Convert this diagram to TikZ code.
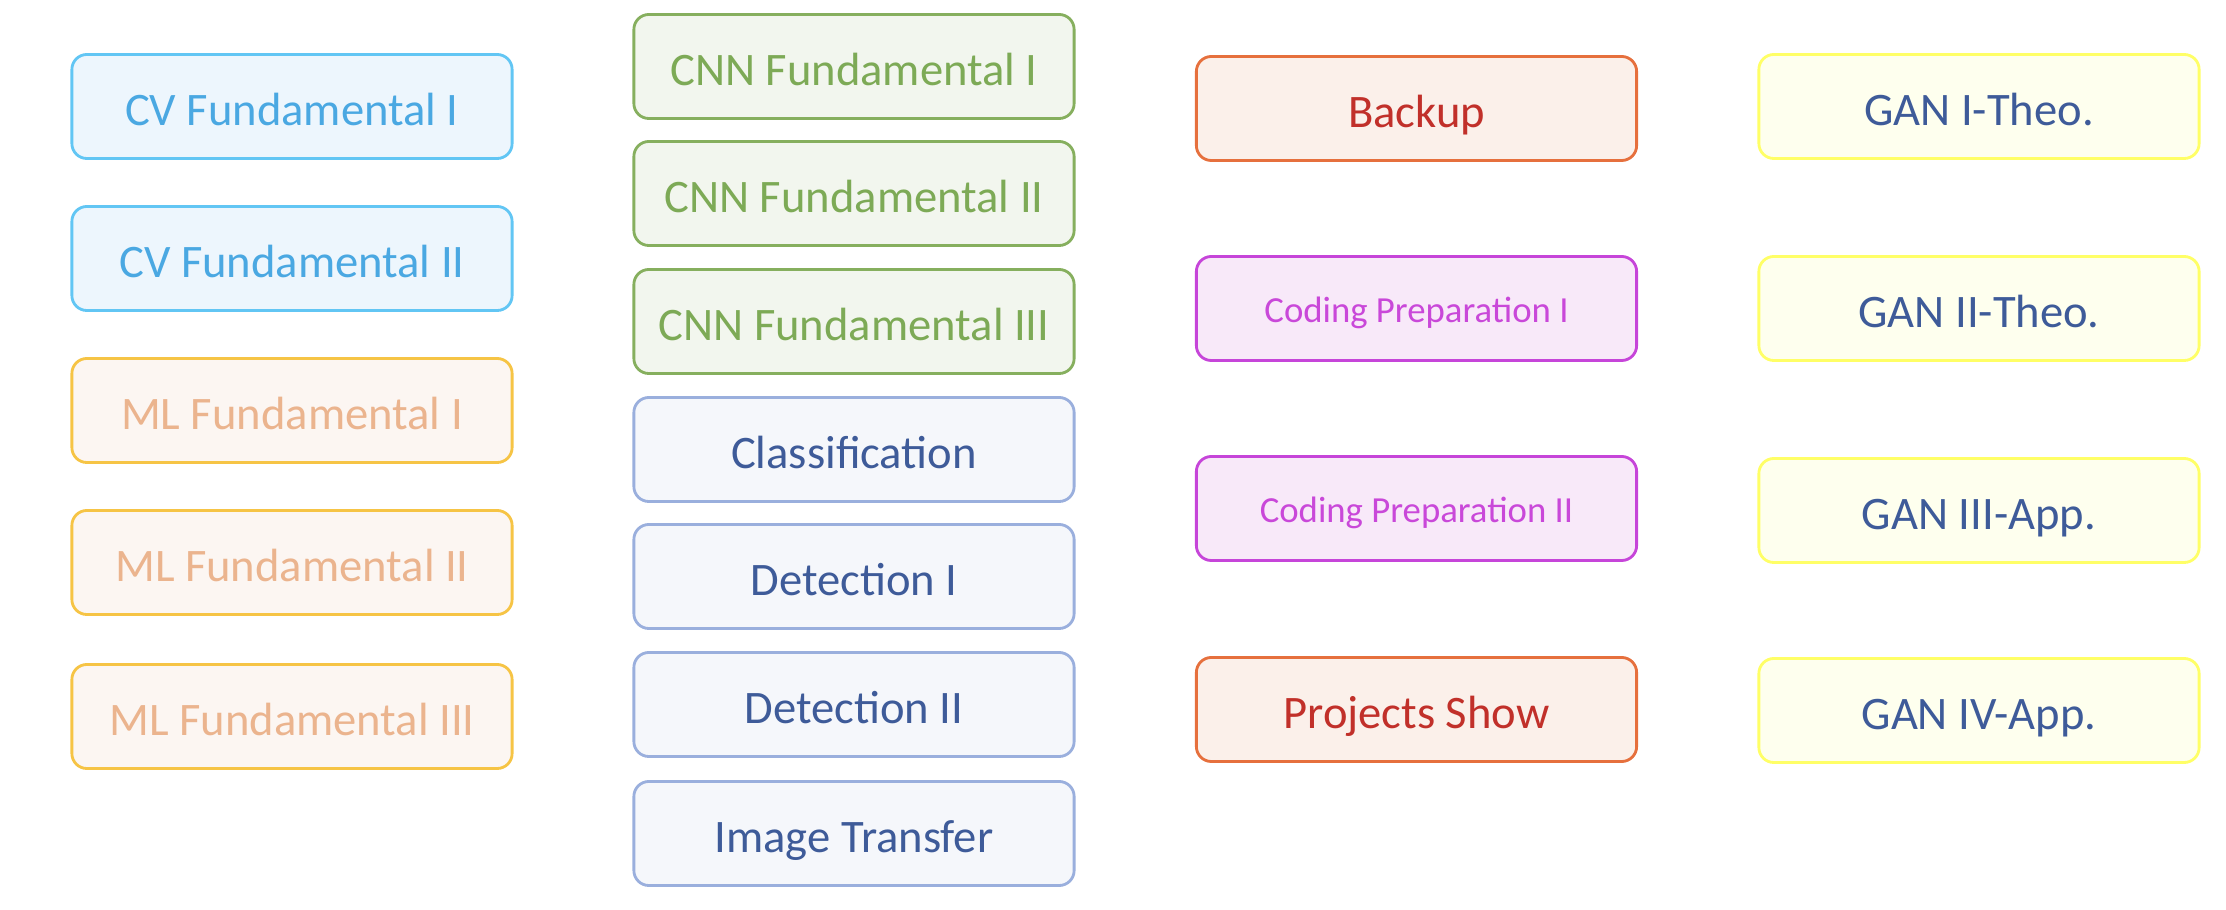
\documentclass[tikz,border=0pt]{standalone}
\usepackage{fontspec}
\setmainfont{Carlito}
\definecolor{cvB}{HTML}{62C6F4}\definecolor{cvF}{HTML}{EDF6FD}\definecolor{cvT}{HTML}{4AA8E2}
\definecolor{mlB}{HTML}{F6C445}\definecolor{mlF}{HTML}{FCF6F2}\definecolor{mlT}{HTML}{EBB48E}
\definecolor{cnB}{HTML}{86AF5E}\definecolor{cnF}{HTML}{F2F6EE}\definecolor{cnT}{HTML}{7DAA56}
\definecolor{dtB}{HTML}{9AAFDD}\definecolor{dtF}{HTML}{F5F7FB}\definecolor{dtT}{HTML}{3E5B99}
\definecolor{bkB}{HTML}{E6703D}\definecolor{bkF}{HTML}{FBF0EA}\definecolor{bkT}{HTML}{C1302A}
\definecolor{cpB}{HTML}{C645D9}\definecolor{cpF}{HTML}{F8E9F9}\definecolor{cpT}{HTML}{C948D9}
\definecolor{gnB}{HTML}{FFFF66}\definecolor{gnF}{HTML}{FEFFEE}\definecolor{gnT}{HTML}{3E5B99}
\tikzset{
  box/.style={rectangle, rounded corners=0.15cm, line width=0.8pt, minimum width=4.40cm, minimum height=1.04cm, inner sep=0pt, text height=0.37cm, text depth=0cm, font=\fontsize{13.25pt}{16pt}\selectfont},
  cvbox/.style={box, draw=cvB, fill=cvF, text=cvT},
  mlbox/.style={box, draw=mlB, fill=mlF, text=mlT},
  cnbox/.style={box, draw=cnB, fill=cnF, text=cnT},
  dtbox/.style={box, draw=dtB, fill=dtF, text=dtT},
  bkbox/.style={box, draw=bkB, fill=bkF, text=bkT},
  cpbox/.style={box, draw=cpB, fill=cpF, text=cpT, text height=0.28cm, font=\fontsize{10.45pt}{13pt}\selectfont},
  gnbox/.style={box, draw=gnB, fill=gnF, text=gnT},
}
\begin{document}
\begin{tikzpicture}[x=0.01cm,y=-0.01cm]
\useasboundingbox (0,0) rectangle (2226,910);
% column 1
\node[cvbox] (cv1) at (292,106.5) {CV Fundamental I};
\node[cvbox] (cv2) at (292,258.5) {CV Fundamental II};
\node[mlbox] (ml1) at (292,410.5) {ML Fundamental I};
\node[mlbox] (ml2) at (292,562.5) {ML Fundamental II};
\node[mlbox] (ml3) at (292,716.5) {ML Fundamental III};
% column 2
\node[cnbox] (cnn1) at (854,66.5) {CNN Fundamental I};
\node[cnbox] (cnn2) at (854,193.5) {CNN Fundamental II};
\node[cnbox] (cnn3) at (854,321.5) {CNN Fundamental III};
\node[dtbox] (cls) at (854,449.5) {Classification};
\node[dtbox] (det1) at (854,576.5) {Detection I};
\node[dtbox] (det2) at (854,704.5) {Detection II};
\node[dtbox] (imt) at (854,833.5) {Image Transfer};
% column 3
\node[bkbox] (bak) at (1416.5,108.5) {Backup};
\node[cpbox] (cp1) at (1416.5,308.5) {Coding Preparation I};
\node[cpbox] (cp2) at (1416.5,508.5) {Coding Preparation II};
\node[bkbox] (prj) at (1416.5,709.5) {Projects Show};
% column 4
\node[gnbox] (gan1) at (1979,106.5) {GAN I-Theo.};
\node[gnbox] (gan2) at (1979,308.5) {GAN II-Theo.};
\node[gnbox] (gan3) at (1979,510.5) {GAN III-App.};
\node[gnbox] (gan4) at (1979,710.5) {GAN IV-App.};
\end{tikzpicture}
\end{document}
